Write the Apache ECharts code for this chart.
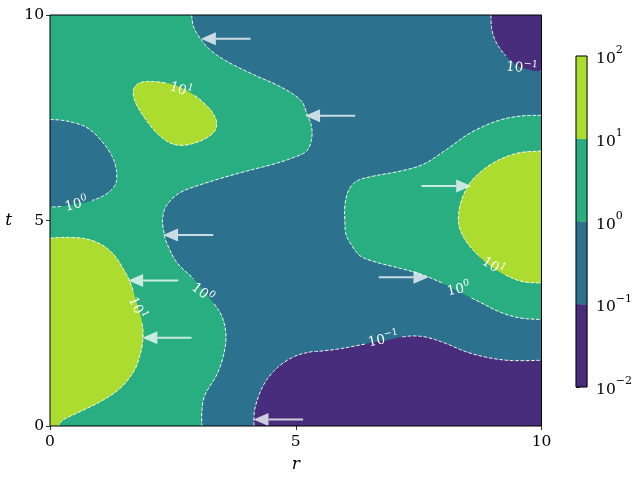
<!DOCTYPE html>
<html><head><meta charset="utf-8">
<script src="https://cdn.jsdelivr.net/npm/echarts@6/dist/echarts.min.js"></script>
<style>html,body{margin:0;padding:0;background:#fff}#c{width:635px;height:478px}</style>
</head><body><div id="c"></div>
<script>
// ---------- data ----------
const levels = [0.01, 0.1, 1, 10, 100];
const levelColors = ['#472d7b', '#2c728e', '#28ae80', '#addc30'];
const xTicks = [0, 5, 10];
const yTicks = [0, 5, 10];

const domainCorners = [[0,0],[10,0],[10,10],[0,10]];
// 10^0 contour: green (left) / teal (right)
const contourA = [[2.88,10],[2.92,9.72],[3.05,9.44],[3.26,9.15],[3.60,8.87],[4.14,8.55],[4.68,8.26],[5.09,7.94],[5.22,7.62],[5.32,7.29],[5.32,6.97],[5.22,6.69],[4.95,6.53],[4.54,6.37],[3.87,6.16],[3.19,5.92],[2.65,5.68],[2.37,5.36],[2.29,5.03],[2.32,4.71],[2.37,4.47],[2.58,3.98],[2.92,3.58],[3.26,3.09],[3.49,2.69],[3.58,2.21],[3.53,1.72],[3.39,1.24],[3.15,0.75],[3.09,0.35],[3.09,0]];
// 10^0 contour: teal island on the left edge
const blobLeft = [[0,7.46],[0.34,7.42],[0.75,7.26],[1.08,6.89],[1.29,6.49],[1.36,6.08],[1.29,5.80],[1.02,5.56],[0.61,5.42],[0.20,5.34],[0,5.33]];
// 10^1 contour: closed yellow island upper left
const blobTop = [[1.70,8.18],[1.83,8.35],[2.10,8.38],[2.51,8.30],[2.92,8.06],[3.26,7.70],[3.39,7.38],[3.32,7.13],[3.05,6.93],[2.71,6.83],[2.44,6.89],[2.17,7.13],[1.90,7.54],[1.73,7.90]];
// 10^1 contour: yellow region lower left
const yellowLeft = [[0,4.57],[0.34,4.59],[0.75,4.55],[1.08,4.39],[1.32,4.14],[1.49,3.82],[1.63,3.50],[1.76,3.01],[1.87,2.53],[1.89,2.13],[1.83,1.72],[1.70,1.32],[1.42,0.91],[1.02,0.59],[0.54,0.31],[0.27,0.15],[0.17,0]];
// 10^-1 contour: purple region bottom
const purpleBottom = [[4.15,0],[4.17,0.43],[4.34,0.99],[4.61,1.40],[4.95,1.68],[5.29,1.80],[5.49,1.82],[5.90,1.88],[6.44,2.00],[6.85,2.08],[7.19,2.17],[7.46,2.19],[7.73,2.14],[8.07,2.00],[8.48,1.80],[8.89,1.67],[9.29,1.60],[9.70,1.59],[10,1.60]];
// 10^-1 contour: purple corner top right
const purpleTop = [[8.97,10],[8.99,9.64],[9.09,9.31],[9.29,8.99],[9.56,8.75],[9.83,8.65],[10,8.63]];
// 10^0 contour: green region right
const greenRight = [[10,7.56],[9.56,7.54],[9.09,7.42],[8.55,7.13],[8.07,6.73],[7.60,6.37],[7.12,6.20],[6.58,6.08],[6.24,5.96],[6.07,5.72],[6.00,5.36],[6.00,4.95],[6.02,4.67],[6.10,4.47],[6.31,4.14],[6.65,3.98],[7.05,3.86],[7.53,3.70],[7.94,3.50],[8.34,3.26],[8.75,3.01],[9.16,2.77],[9.56,2.63],[10,2.59]];
// 10^1 contour: yellow region right
const yellowRight = [[10,6.69],[9.56,6.65],[9.16,6.49],[8.82,6.24],[8.55,5.92],[8.38,5.52],[8.31,5.11],[8.34,4.79],[8.48,4.47],[8.68,4.19],[8.95,3.90],[9.29,3.66],[9.63,3.51],[10,3.48]];

// contour labels
const labelR = [2.67, 0.53, 1.79, 3.11, 9.60, 9.03, 8.31, 6.78];
const labelT = [8.21, 5.42, 2.88, 3.26, 8.74, 3.91, 3.35, 2.13];
const labelExp = ['1', '0', '1', '0', '\u22121', '1', '0', '\u22121'];
const labelAngle = [-18, 14, -65, -38, -6, -32, 12, 12];

// arrows (tail -> tip at constant t)
const arrowT    = [9.42, 7.55, 4.65, 5.84, 3.54, 3.62, 2.15, 0.16];
const arrowTail = [4.08, 6.21, 3.32, 7.56, 2.61, 6.69, 2.88, 5.15];
const arrowTip  = [3.07, 5.19, 2.30, 8.57, 1.59, 7.70, 1.88, 4.14];

// ---------- build ----------
const regions = [
  {pts: [], close: domainCorners, closed: false, c: 1},
  {pts: contourA, close: [[0,0],[0,10]], closed: false, c: 2},
  {pts: greenRight, close: [], closed: false, c: 2},
  {pts: blobLeft, close: [], closed: false, c: 1},
  {pts: blobTop, close: [], closed: true, c: 3},
  {pts: yellowLeft, close: [[0,0]], closed: false, c: 3},
  {pts: yellowRight, close: [], closed: false, c: 3},
  {pts: purpleBottom, close: [[10,0]], closed: false, c: 0},
  {pts: purpleTop, close: [[10,10]], closed: false, c: 0}
];
const contours = [
  {pts: contourA, closed: false}, {pts: greenRight, closed: false}, {pts: blobLeft, closed: false},
  {pts: blobTop, closed: true}, {pts: yellowLeft, closed: false}, {pts: yellowRight, closed: false},
  {pts: purpleBottom, closed: false}, {pts: purpleTop, closed: false}
];

function smooth(P, closed, steps) {
  const n = P.length; if (n < 3) return P.slice();
  const out = [];
  const get = i => closed ? P[(i + n) % n] : P[Math.max(0, Math.min(n - 1, i))];
  const segs = closed ? n : n - 1;
  for (let i = 0; i < segs; i++) {
    const p0 = get(i - 1), p1 = get(i), p2 = get(i + 1), p3 = get(i + 2);
    for (let s = 0; s < steps; s++) {
      const t = s / steps, t2 = t * t, t3 = t2 * t;
      const f = k => 0.5 * (2 * p1[k] + (-p0[k] + p2[k]) * t + (2 * p0[k] - 5 * p1[k] + 4 * p2[k] - p3[k]) * t2 + (-p0[k] + 3 * p1[k] - 3 * p2[k] + p3[k]) * t3);
      out.push([f(0), f(1)]);
    }
  }
  if (closed) out.push(out[0]); else out.push(P[n - 1]);
  return out;
}

const SERIF = 'DejaVu Serif';
const tickFont = 15.5;

function expLabel(v) {
  const e = Math.round(Math.log10(v));
  return '{b|10}{s|' + (e < 0 ? '\u2212' + (-e) : e) + '}';
}

const option = {
  animation: false,
  grid: [
    {left: 50, top: 15, right: 93.5, bottom: 50.3, show: true, z: 10, borderColor: '#000', borderWidth: 1, backgroundColor: 'rgba(0,0,0,0)'},
    {left: 576, top: 56, width: 17, height: 331, show: true, z: 10, borderColor: '#000', borderWidth: 1, backgroundColor: 'rgba(0,0,0,0)'}
  ],
  xAxis: [
    {type: 'value', gridIndex: 0, min: xTicks[0], max: xTicks[xTicks.length - 1], interval: xTicks[1] - xTicks[0],
     axisLine: {show: false}, splitLine: {show: false},
     axisTick: {show: true, length: 4, lineStyle: {color: '#000', width: 0.8}},
     axisLabel: {color: '#000', fontFamily: SERIF, fontSize: tickFont, margin: 8},
     name: 'r', nameLocation: 'middle', nameGap: 30,
     nameTextStyle: {fontFamily: SERIF, fontStyle: 'italic', fontSize: 17, color: '#000'}},
    {type: 'value', gridIndex: 1, min: 0, max: 1, show: false}
  ],
  yAxis: [
    {type: 'value', gridIndex: 0, min: yTicks[0], max: yTicks[yTicks.length - 1], interval: yTicks[1] - yTicks[0],
     axisLine: {show: false}, splitLine: {show: false},
     axisTick: {show: true, length: 4, lineStyle: {color: '#000', width: 0.8}},
     axisLabel: {color: '#000', fontFamily: SERIF, fontSize: tickFont, margin: 6},
     name: 't', nameLocation: 'middle', nameGap: 38, nameRotate: 0,
     nameTextStyle: {fontFamily: SERIF, fontStyle: 'italic', fontSize: 17, color: '#000', padding: [0, 0, 12, 0]}},
    {type: 'log', logBase: 10, gridIndex: 1, min: levels[0], max: levels[levels.length - 1], interval: 1, position: 'right',
     axisLine: {show: false}, splitLine: {show: false}, minorTick: {show: false},
     axisTick: {show: true, length: 4, lineStyle: {color: '#000', width: 0.8}},
     axisLabel: {margin: 9, formatter: expLabel, color: '#000',
       rich: {b: {fontFamily: SERIF, fontSize: tickFont, color: '#000', lineHeight: 22, verticalAlign: 'bottom'},
              s: {fontFamily: SERIF, fontSize: 11, color: '#000', verticalAlign: 'top', lineHeight: 12}}}}
  ],
  series: [
    { // filled regions
      type: 'custom', xAxisIndex: 0, yAxisIndex: 0, clip: true, z: 2,
      data: regions.map((r, i) => i),
      renderItem: function (params, api) {
        const reg = regions[params.dataIndex];
        const px = reg.pts.map(p => api.coord(p));
        let pts = reg.pts.length ? smooth(px, reg.closed, 12) : [];
        pts = pts.concat(reg.close.map(p => api.coord(p)));
        return {type: 'polygon', shape: {points: pts}, style: {fill: levelColors[reg.c], stroke: levelColors[reg.c], lineWidth: 0.3}};
      }
    },
    { // dashed contour lines
      type: 'custom', xAxisIndex: 0, yAxisIndex: 0, clip: true, z: 3,
      data: contours.map((c, i) => i),
      renderItem: function (params, api) {
        const con = contours[params.dataIndex];
        const pts = smooth(con.pts.map(p => api.coord(p)), con.closed, 14);
        const centers = labelR.map((r, i) => ({p: api.coord([r, labelT[i]]), rad: labelExp[i].length > 1 ? 19 : 15}));
        const runs = []; let cur = [];
        pts.forEach(p => {
          const hidden = centers.some(c => Math.hypot(p[0] - c.p[0], p[1] - c.p[1]) < c.rad);
          if (hidden) { if (cur.length > 1) runs.push(cur); cur = []; } else cur.push(p);
        });
        if (cur.length > 1) runs.push(cur);
        return {type: 'group', children: runs.map(r => ({type: 'polyline', shape: {points: r},
          style: {stroke: '#ffffff', lineWidth: 1, lineDash: [3.7, 1.6], fill: null}}))};
      }
    },
    { // contour labels
      type: 'custom', xAxisIndex: 0, yAxisIndex: 0, clip: false, z: 4,
      data: labelR.map((r, i) => [r, labelT[i]]),
      renderItem: function (params, api) {
        const i = params.dataIndex;
        const p = api.coord([api.value(0), api.value(1)]);
        return {type: 'text', x: p[0], y: p[1], rotation: labelAngle[i] * Math.PI / 180,
          style: {text: '{b|10}{s|' + labelExp[i] + '}', align: 'center', verticalAlign: 'middle', fill: '#fff',
            rich: {b: {fontFamily: SERIF, fontSize: 13.5, fill: '#fff', lineHeight: 17, verticalAlign: 'bottom'},
                   s: {fontFamily: SERIF, fontSize: 9.5, fill: '#fff', verticalAlign: 'top', lineHeight: 10}}}};
      }
    },
    { // arrows
      type: 'custom', xAxisIndex: 0, yAxisIndex: 0, clip: false, z: 5,
      data: arrowT.map((t, i) => [arrowTail[i], t, arrowTip[i]]),
      renderItem: function (params, api) {
        const a = api.coord([api.value(0), api.value(1)]);
        const b = api.coord([api.value(2), api.value(1)]);
        const L = Math.hypot(b[0] - a[0], b[1] - a[1]);
        const d = [(b[0] - a[0]) / L, (b[1] - a[1]) / L], n = [-d[1], d[0]];
        const hl = 15, hw = 6.5;
        const base = [b[0] - d[0] * hl, b[1] - d[1] * hl];
        const col = 'rgba(247,250,252,0.78)';
        return {type: 'group', children: [
          {type: 'line', shape: {x1: a[0], y1: a[1], x2: base[0], y2: base[1]}, style: {stroke: col, lineWidth: 2}},
          {type: 'polygon', shape: {points: [b, [base[0] + n[0] * hw, base[1] + n[1] * hw], [base[0] - n[0] * hw, base[1] - n[1] * hw]]}, style: {fill: col}}
        ]};
      }
    },
    { // colorbar
      type: 'custom', xAxisIndex: 1, yAxisIndex: 1, clip: false, z: 2,
      data: levelColors.map((c, i) => [levels[i], levels[i + 1]]),
      renderItem: function (params, api) {
        const p1 = api.coord([0, api.value(1)]);
        const p2 = api.coord([1, api.value(0)]);
        return {type: 'rect', shape: {x: p1[0], y: p1[1], width: p2[0] - p1[0], height: p2[1] - p1[1]},
          style: {fill: levelColors[params.dataIndex], stroke: levelColors[params.dataIndex], lineWidth: 0.3}};
      }
    }
  ]
};
const chart = echarts.init(document.getElementById('c'), null, {renderer: 'canvas'});
chart.setOption(option);
</script>
</body></html>
